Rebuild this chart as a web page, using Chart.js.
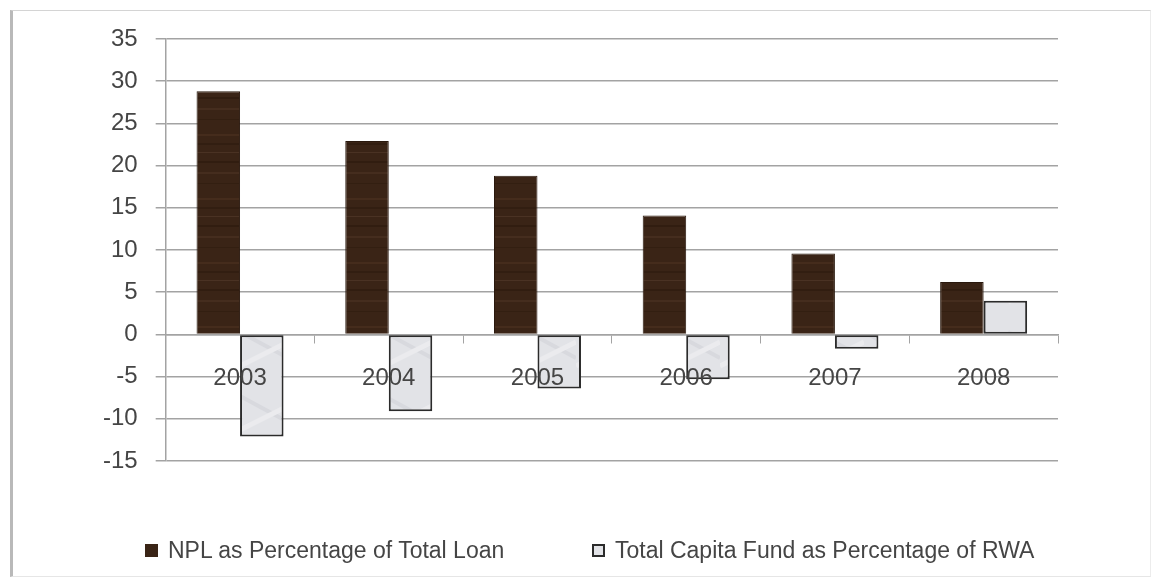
<!DOCTYPE html>
<html>
<head>
<meta charset="utf-8">
<script src="https://cdn.jsdelivr.net/npm/chart.js@4.4.0/dist/chart.umd.min.js"></script>
<style>
  html, body { margin: 0; padding: 0; background: #ffffff; }
  #wrap { position: relative; width: 1154px; height: 581px; overflow: hidden; }
  #frame { position: absolute; left: 10px; top: 10px; width: 1141px; height: 567px;
           border-left: 3px solid #b9b9b9; border-top: 1px solid #d4d4d4;
           border-right: 1px solid #ececec; border-bottom: 1px solid #e6e6e6; box-sizing: border-box; }
  #c { position: absolute; left: 0; top: 0; }
  .lg { position: absolute; top: 536px; height: 28px; display: flex; align-items: center;
        font-family: 'Liberation Sans', sans-serif; font-size: 23px; color: #454545; white-space: nowrap; }
  .lg .box { display: inline-block; width: 13px; height: 13px; box-sizing: border-box; margin-right: 10px; }
</style>
</head>
<body>
<div id="wrap">
  <div id="frame"></div>
  <canvas id="c" width="1154" height="581"></canvas>
  <div id="lg0" class="lg" style="left:145px;"><span class="box"></span><span class="txt"></span></div>
  <div id="lg1" class="lg" style="left:592px;"><span class="box"></span><span class="txt"></span></div>
</div>
<script>
const categories = ['2003', '2004', '2005', '2006', '2007', '2008'];
const nplValues = [28.8, 22.9, 18.8, 14.1, 9.6, 6.2];
const capitalValues = [-12.1, -9.1, -6.4, -5.3, -1.7, 4.0];
const seriesNames = ['NPL as Percentage of Total Loan', 'Total Capita Fund as Percentage of RWA'];
const yTicks = { min: -15, max: 35, step: 5 };

const textColor = '#454545';
const gridColor = '#a3a3a3';

// Fill textures (wood for NPL, marble for capital), drawn deterministically
function woodPattern() {
  const c = document.createElement('canvas');
  c.width = 48; c.height = 64;
  const g = c.getContext('2d');
  g.fillStyle = '#3a2416'; g.fillRect(0, 0, 48, 64);
  const streaks = [[6, '#452c1c', 2], [15, '#321e11', 2], [24, '#4a3223', 1], [33, '#311d10', 2], [44, '#452d1e', 2], [55, '#331f11', 1]];
  streaks.forEach(([y, col, w]) => { g.fillStyle = col; g.fillRect(0, y, 48, w); });
  return g.createPattern(c, 'repeat');
}
function marblePattern() {
  const c = document.createElement('canvas');
  c.width = 48; c.height = 64;
  const g = c.getContext('2d');
  g.fillStyle = '#e2e3e7'; g.fillRect(0, 0, 48, 64);
  g.strokeStyle = '#d8d9de'; g.lineWidth = 4;
  g.beginPath(); g.moveTo(0, 12); g.lineTo(48, 38); g.stroke();
  g.strokeStyle = '#ebebee'; g.lineWidth = 5;
  g.beginPath(); g.moveTo(0, 46); g.lineTo(48, 22); g.stroke();
  return g.createPattern(c, 'repeat');
}

const datasets = [
  {
    label: seriesNames[0],
    data: nplValues,
    backgroundColor: woodPattern(),
    borderColor: '#2a190e',
    borderWidth: 1,
    legendColor: '#3a2416',
    categoryPercentage: 0.585,
    barPercentage: 1.0
  },
  {
    label: seriesNames[1],
    data: capitalValues,
    backgroundColor: marblePattern(),
    borderColor: '#2b2b2b',
    borderWidth: 2,
    borderSkipped: false,
    legendColor: '#e2e3e7',
    categoryPercentage: 0.585,
    barPercentage: 1.0
  }
];

// HTML legend built from the dataset definitions
datasets.forEach((ds, i) => {
  const el = document.getElementById('lg' + i);
  const box = el.querySelector('.box');
  box.style.background = ds.legendColor;
  box.style.border = (i === 1 ? 2 : 0) + 'px solid ' + ds.borderColor;
  el.querySelector('.txt').textContent = ds.label;
});

new Chart(document.getElementById('c'), {
  type: 'bar',
  data: { labels: categories, datasets: datasets },
  options: {
    responsive: false,
    animation: false,
    layout: { padding: { left: 85, right: 96, top: 39, bottom: 120 } },
    plugins: {
      legend: { display: false },
      tooltip: { enabled: false }
    },
    scales: {
      x: {
        position: { y: 0 },
        grid: { display: true, drawOnChartArea: false, drawTicks: true, tickLength: 8, color: gridColor, lineWidth: 1 },
        border: { display: true, color: gridColor, width: 1.5 },
        ticks: { z: 1, color: textColor, padding: 22, font: { family: 'Liberation Sans', size: 24 } }
      },
      y: {
        min: yTicks.min,
        max: yTicks.max,
        ticks: { stepSize: yTicks.step, color: textColor, padding: 18, font: { family: 'Liberation Sans', size: 24 } },
        grid: { color: gridColor, lineWidth: 1.5, tickLength: 10 },
        border: { display: true, color: gridColor, width: 1.5 }
      }
    }
  }
});
</script>
</body>
</html>
